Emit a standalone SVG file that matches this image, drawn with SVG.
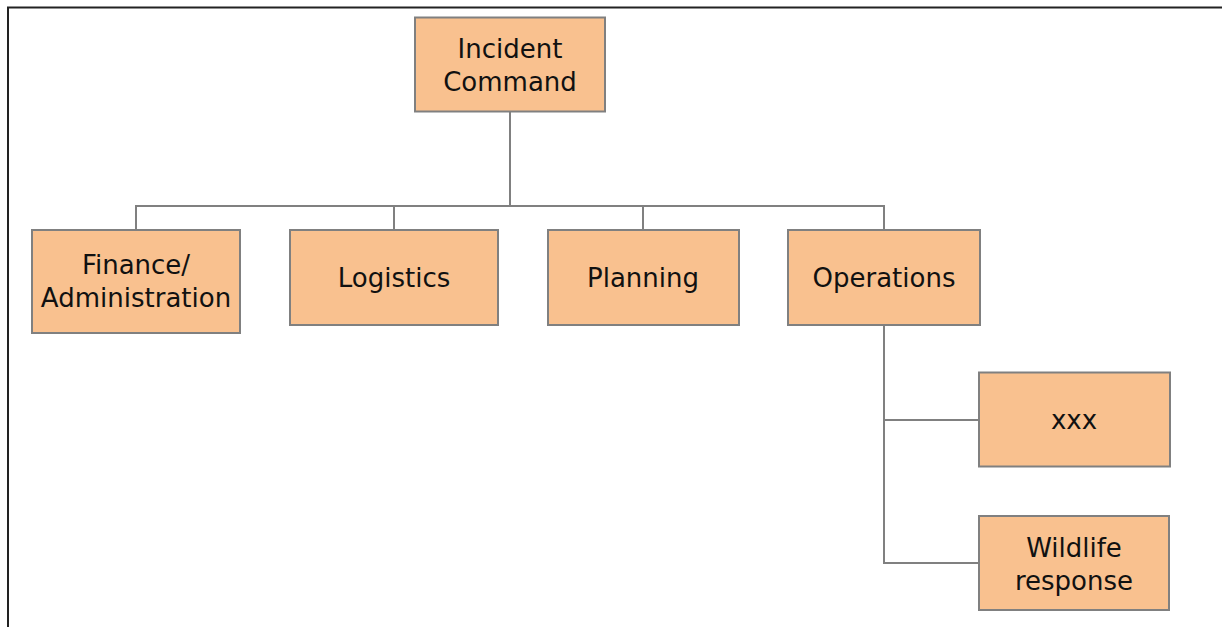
<svg xmlns="http://www.w3.org/2000/svg" width="1222" height="627" viewBox="0 0 1222 627">
<style>
.box{fill:#F9C18F;stroke:#808080;stroke-width:2}
.t{font-family:"DejaVu Sans",Verdana,sans-serif;font-size:26px;fill:#111;text-anchor:middle}
.c{fill:none;stroke:#808080;stroke-width:2}
</style>
<rect width="1222" height="627" fill="#fff"/>
<path d="M8 627 V7.5 H1222" fill="none" stroke="#222" stroke-width="2"/>
<g id="connectors">
<path class="c" d="M510 111 V206 M136 230 V206 H884 V230 M394 206 V230 M643 206 V230"/>
<path class="c" d="M884 325 V563 H979 M884 420 H979"/>
</g>
<g id="incident-command">
<rect class="box" x="415" y="17.5" width="190" height="94"/>
<text class="t" x="510" y="58">Incident</text>
<text class="t" x="510" y="91">Command</text>
</g>
<g id="finance">
<rect class="box" x="32" y="230" width="208" height="103"/>
<text class="t" x="136" y="274">Finance/</text>
<text class="t" x="136" y="307">Administration</text>
</g>
<g id="logistics">
<rect class="box" x="290" y="230" width="208" height="95"/>
<text class="t" x="394" y="287">Logistics</text>
</g>
<g id="planning">
<rect class="box" x="548" y="230" width="191" height="95"/>
<text class="t" x="643" y="287">Planning</text>
</g>
<g id="operations">
<rect class="box" x="788" y="230" width="192" height="95"/>
<text class="t" x="884" y="287">Operations</text>
</g>
<g id="xxx">
<rect class="box" x="979" y="372.5" width="191" height="94"/>
<text class="t" x="1074" y="429">xxx</text>
</g>
<g id="wildlife">
<rect class="box" x="979" y="516" width="190" height="94"/>
<text class="t" x="1074" y="557">Wildlife</text>
<text class="t" x="1074" y="590">response</text>
</g>
</svg>
